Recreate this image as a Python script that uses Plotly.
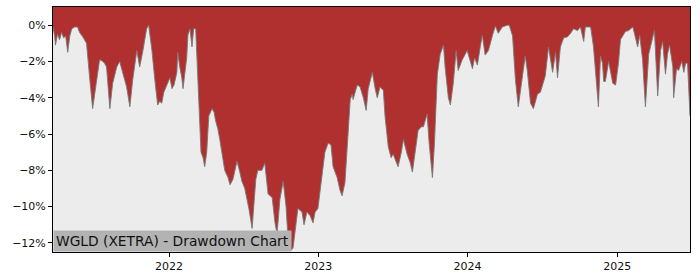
import plotly.graph_objects as go

dates = [
    "2021-03-23", "2021-03-27", "2021-03-29", "2021-04-03", "2021-04-08", "2021-04-13", "2021-04-18", "2021-04-23",
    "2021-04-28", "2021-05-03", "2021-05-08", "2021-05-15", "2021-05-22", "2021-05-27", "2021-06-04", "2021-06-13",
    "2021-06-21", "2021-06-28", "2021-07-03", "2021-07-08", "2021-07-15", "2021-07-23", "2021-07-27", "2021-08-01",
    "2021-08-09", "2021-08-16", "2021-08-26", "2021-09-02", "2021-09-10", "2021-09-19", "2021-09-27", "2021-10-04",
    "2021-10-14", "2021-10-21", "2021-10-29", "2021-11-07", "2021-11-12", "2021-11-20", "2021-11-27", "2021-12-04",
    "2021-12-09", "2021-12-14", "2021-12-19", "2021-12-26", "2022-01-03", "2022-01-08", "2022-01-13", "2022-01-20",
    "2022-01-22", "2022-01-27", "2022-02-01", "2022-02-04", "2022-02-08", "2022-02-13", "2022-02-16", "2022-02-21",
    "2022-02-26", "2022-03-02", "2022-03-07", "2022-03-12", "2022-03-17", "2022-03-20", "2022-03-25", "2022-03-29",
    "2022-04-03", "2022-04-08", "2022-04-16", "2022-04-21", "2022-04-25", "2022-04-30", "2022-05-05", "2022-05-10",
    "2022-05-17", "2022-05-25", "2022-05-30", "2022-06-06", "2022-06-11", "2022-06-16", "2022-06-23", "2022-06-28",
    "2022-07-05", "2022-07-10", "2022-07-15", "2022-07-23", "2022-07-28", "2022-08-01", "2022-08-06", "2022-08-16",
    "2022-08-23", "2022-08-31", "2022-09-10", "2022-09-17", "2022-09-22", "2022-09-29", "2022-10-07", "2022-10-14",
    "2022-10-19", "2022-10-26", "2022-10-31", "2022-11-05", "2022-11-12", "2022-11-22", "2022-11-27", "2022-12-04",
    "2022-12-12", "2022-12-19", "2022-12-24", "2022-12-31", "2023-01-10", "2023-01-17", "2023-01-25", "2023-02-01",
    "2023-02-06", "2023-02-16", "2023-02-23", "2023-02-28", "2023-03-07", "2023-03-15", "2023-03-20", "2023-03-25",
    "2023-03-27", "2023-04-06", "2023-04-13", "2023-04-21", "2023-04-28", "2023-05-03", "2023-05-13", "2023-05-20",
    "2023-05-25", "2023-06-01", "2023-06-09", "2023-06-13", "2023-06-21", "2023-06-28", "2023-07-03", "2023-07-08",
    "2023-07-15", "2023-07-23", "2023-07-28", "2023-08-06", "2023-08-14", "2023-08-19", "2023-08-26", "2023-09-02",
    "2023-09-10", "2023-09-15", "2023-09-24", "2023-09-29", "2023-10-07", "2023-10-12", "2023-10-19", "2023-10-26",
    "2023-11-03", "2023-11-07", "2023-11-15", "2023-11-20", "2023-11-27", "2023-12-04", "2023-12-09", "2023-12-19",
    "2023-12-31", "2024-01-13", "2024-01-18", "2024-01-25", "2024-02-01", "2024-02-06", "2024-02-13", "2024-02-21",
    "2024-03-02", "2024-03-09", "2024-03-16", "2024-03-26", "2024-04-07", "2024-04-12", "2024-04-20", "2024-04-27",
    "2024-05-04", "2024-05-14", "2024-05-21", "2024-05-26", "2024-06-03", "2024-06-10", "2024-06-20", "2024-06-27",
    "2024-07-09", "2024-07-17", "2024-07-27", "2024-08-03", "2024-08-08", "2024-08-15", "2024-08-23", "2024-09-01",
    "2024-09-09", "2024-09-16", "2024-09-26", "2024-10-03", "2024-10-11", "2024-10-15", "2024-10-28", "2024-11-04",
    "2024-11-09", "2024-11-16", "2024-11-21", "2024-11-26", "2024-11-29", "2024-12-03", "2024-12-11", "2024-12-21",
    "2024-12-28", "2025-01-04", "2025-01-09", "2025-01-21", "2025-01-29", "2025-02-08", "2025-02-12", "2025-02-20",
    "2025-02-25", "2025-03-04", "2025-03-11", "2025-03-19", "2025-03-29", "2025-04-02", "2025-04-10", "2025-04-17",
    "2025-04-22", "2025-04-29", "2025-05-04", "2025-05-09", "2025-05-17", "2025-05-19", "2025-05-26", "2025-05-31",
    "2025-06-08", "2025-06-13", "2025-06-17", "2025-06-22", "2025-06-28",
]

drawdown = [
    -0.1, -0.6, -1.1, -0.5, -0.8, -0.4, -0.7, -0.6,
    -1.5, -0.6, -0.2, -0.1, -0.1, -0.4, -0.65, -1.0,
    -3.0, -4.6, -3.8, -3.0, -1.9, -2.0, -2.1, -2.3,
    -4.6, -3.2, -2.3, -2.0, -2.7, -3.4, -4.5, -3.0,
    -1.4, -2.3, -1.4, -0.2, 0.0, -1.4, -3.0, -4.4,
    -4.2, -4.3, -3.7, -3.3, -2.9, -3.5, -3.3, -2.6,
    -1.5, -2.3, -2.9, -3.5, -2.7, -1.8, -0.55, -0.2,
    -1.2, -0.2, -0.2, -2.6, -5.1, -7.0, -7.3, -7.8,
    -7.0, -5.0, -4.6, -4.8, -5.3, -5.7, -6.3, -7.0,
    -8.0, -8.4, -8.8, -8.5, -8.0, -7.5, -8.1, -8.6,
    -9.0, -9.5, -10.1, -11.2, -9.9, -8.5, -8.0, -8.0,
    -7.6, -9.3, -9.5, -10.9, -11.5, -9.6, -8.6, -10.0,
    -11.8, -12.4, -12.3, -11.5, -10.1, -10.3, -11.0, -10.3,
    -10.5, -10.9, -10.3, -10.1, -8.2, -7.0, -6.5, -6.6,
    -7.8, -8.4, -9.1, -9.4, -8.7, -5.4, -4.1, -3.8,
    -4.1, -3.3, -3.4, -4.0, -4.7, -3.5, -2.6, -3.5,
    -4.0, -3.4, -3.6, -5.0, -6.7, -7.3, -7.1, -7.4,
    -7.8, -7.0, -6.3, -7.1, -7.6, -8.1, -6.9, -5.8,
    -5.6, -5.6, -4.9, -6.5, -8.4, -6.5, -2.7, -1.6,
    -1.1, -2.3, -4.0, -4.4, -3.2, -1.4, -2.5, -1.9,
    -1.4, -2.4, -1.8, -2.2, -1.2, -0.55, -1.65, -1.4,
    -0.55, -0.05, -0.45, -0.1, 0.0, 0.0, -0.6, -3.0,
    -4.5, -3.0, -1.7, -2.5, -4.3, -4.6, -3.8, -3.7,
    -2.8, -1.2, -2.6, -1.5, -2.9, -1.2, -0.7, -0.65,
    -0.45, -0.2, -0.3, -0.1, -0.9, -0.1, -0.1, -1.2,
    -2.7, -4.5, -1.7, -2.1, -3.1, -3.1, -2.0, -3.2,
    -3.3, -2.1, -0.8, -0.35, -0.3, -0.1, -0.45, -1.2,
    -0.55, -1.9, -4.5, -1.6, -0.65, -0.3, -3.9, -1.4,
    -0.9, -2.7, -1.6, -1.1, -2.3, -4.0, -2.4, -2.5,
    -2.0, -2.6, -2.1, -2.1, -5.0,
]

y_ticks = [0, -2, -4, -6, -8, -10, -12]
y_tick_labels = ["0%", "\u22122%", "\u22124%", "\u22126%", "\u22128%", "\u221210%", "\u221212%"]
x_ticks = ["2022-01-01", "2023-01-01", "2024-01-01", "2025-01-01"]
x_tick_labels = ["2022", "2023", "2024", "2025"]
title_text = "WGLD (XETRA) - Drawdown Chart"

Y_MIN, Y_MAX = -12.5, 1.0
RED = "#b03030"
BG = "#ececec"
FONT = "DejaVu Sans"

fig = go.Figure()
# upper boundary of the filled area (top of the plot)
fig.add_trace(go.Scatter(
    x=dates, y=[Y_MAX] * len(dates), mode="lines",
    line=dict(width=0, color=RED), hoverinfo="skip", showlegend=False,
))
fig.add_trace(go.Scatter(
    x=dates, y=drawdown, mode="lines",
    line=dict(width=1, color="rgba(120,120,120,0.9)"),
    fill="tonexty", fillcolor=RED, showlegend=False,
))

fig.update_layout(
    width=700, height=280,
    margin=dict(l=53, r=10, t=7, b=28),
    paper_bgcolor="white", plot_bgcolor=BG,
    font=dict(family=FONT, size=11, color="#111"),
    showlegend=False,
)
fig.update_xaxes(
    type="date", range=[dates[0], dates[-1]],
    tickvals=x_ticks, ticktext=x_tick_labels,
    showgrid=False, zeroline=False,
    showline=True, linecolor="black", linewidth=1, mirror=True,
    ticks="outside", ticklen=4, tickcolor="black", tickwidth=1,
)
fig.update_yaxes(
    range=[Y_MIN, Y_MAX],
    tickvals=y_ticks, ticktext=y_tick_labels,
    showgrid=False, zeroline=False,
    showline=True, linecolor="black", linewidth=1, mirror=True,
    ticks="outside", ticklen=4, tickcolor="black", tickwidth=1,
)
fig.add_annotation(
    x=0, y=0, xref="paper", yref="paper", xanchor="left", yanchor="bottom",
    text=title_text, showarrow=False,
    font=dict(family=FONT, size=13.8, color="#111"),
    bgcolor="#b3b3b3", borderpad=2,
)

fig.write_html("out.html")
